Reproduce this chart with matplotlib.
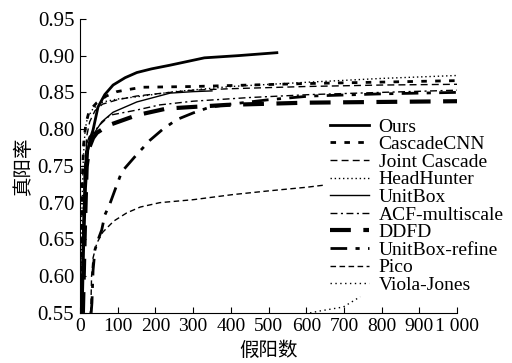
import matplotlib
matplotlib.use("Agg")
import matplotlib.pyplot as plt
from matplotlib.ticker import FuncFormatter

plt.rcParams['font.family'] = ['Liberation Serif', 'DejaVu Serif']
plt.rcParams['font.size'] = 14

# ROC curves (false positives vs true positive rate)
ours_x = [6, 10, 15, 21, 28, 35, 48, 66, 88, 120, 151, 190, 239, 330, 420, 522]
ours_y = [0.55, 0.64, 0.72, 0.772, 0.788, 0.799, 0.830, 0.847, 0.860, 0.870, 0.877, 0.882, 0.887, 0.897, 0.900, 0.904]

cascadecnn_x = [2, 4, 7, 10, 16, 25, 45, 70, 98, 130, 165, 300, 600, 1000]
cascadecnn_y = [0.55, 0.65, 0.74, 0.78, 0.808, 0.825, 0.836, 0.845, 0.851, 0.854, 0.857, 0.858, 0.862, 0.866]

joint_x = [4, 8, 12, 18, 26, 40, 60, 100, 150, 220, 300, 400, 600, 800, 1000]
joint_y = [0.55, 0.66, 0.74, 0.79, 0.81, 0.825, 0.834, 0.840, 0.845, 0.849, 0.853, 0.855, 0.858, 0.860, 0.861]

headhunter_x = [2, 5, 9, 14, 20, 35, 61, 100, 151, 250, 400, 610, 800, 1000]
headhunter_y = [0.55, 0.68, 0.76, 0.80, 0.815, 0.828, 0.837, 0.841, 0.844, 0.851, 0.858, 0.864, 0.869, 0.873]

unitbox_x = [4, 8, 12, 18, 25, 40, 58, 88, 151, 239, 300, 350]
unitbox_y = [0.55, 0.66, 0.74, 0.78, 0.79, 0.796, 0.810, 0.823, 0.837, 0.849, 0.851, 0.852]

acf_x = [3, 7, 12, 18, 26, 35, 53, 80, 151, 212, 300, 450, 610, 800, 1000]
acf_y = [0.55, 0.65, 0.72, 0.76, 0.78, 0.795, 0.806, 0.819, 0.826, 0.833, 0.838, 0.843, 0.847, 0.850, 0.853]

ddfd_x = [8, 13, 18, 25, 35, 45, 60, 80, 151, 230, 390, 600, 800, 1000]
ddfd_y = [0.55, 0.66, 0.749, 0.775, 0.788, 0.795, 0.800, 0.806, 0.819, 0.828, 0.833, 0.836, 0.837, 0.838]

refine_x = [30, 32, 35, 40, 50, 58, 66, 80, 95, 111, 150, 186, 220, 257, 300, 345, 400, 500, 610, 800, 1000]
refine_y = [0.55, 0.564, 0.608, 0.636, 0.652, 0.663, 0.683, 0.699, 0.72, 0.742, 0.765, 0.785, 0.80, 0.813, 0.822, 0.830, 0.834, 0.840, 0.845, 0.848, 0.850]

pico_x = [27, 29, 31, 35, 45, 61, 90, 124, 160, 212, 300, 406, 500, 602, 650]
pico_y = [0.55, 0.554, 0.60, 0.625, 0.645, 0.66, 0.675, 0.686, 0.694, 0.70, 0.704, 0.711, 0.716, 0.721, 0.724]

viola_x = [610, 640, 698, 743]
viola_y = [0.55, 0.553, 0.558, 0.572]

x_ticks = [0, 100, 200, 300, 400, 500, 600, 700, 800, 900, 1000]
y_ticks = [0.55, 0.60, 0.65, 0.70, 0.75, 0.80, 0.85, 0.90, 0.95]

fig = plt.figure(figsize=(5.12, 3.63), dpi=100)
ax = fig.add_axes([0.156, 0.138, 0.737, 0.810])

k = 'black'
ax.plot(ours_x, ours_y, color=k, lw=2.0, label='Ours')
ax.plot(cascadecnn_x, cascadecnn_y, color=k, lw=2.0, dashes=[2, 3], label='CascadeCNN')
ax.plot(joint_x, joint_y, color=k, lw=1.0, dashes=[5, 3], label='Joint Cascade')
ax.plot(headhunter_x, headhunter_y, color=k, lw=1.0, dashes=[1, 2], label='HeadHunter')
ax.plot(unitbox_x, unitbox_y, color=k, lw=1.0, label='UnitBox')
ax.plot(acf_x, acf_y, color=k, lw=1.0, dashes=[5, 2.5, 1.5, 2.5], label='ACF-multiscale')
ax.plot(ddfd_x, ddfd_y, color=k, lw=3.0, dashes=[5, 3], label='DDFD')
ax.plot(refine_x, refine_y, color=k, lw=2.0, dashes=[6, 3, 1.5, 3], label='UnitBox-refine')
ax.plot(pico_x, pico_y, color=k, lw=1.0, dashes=[4, 2.5], label='Pico')
ax.plot(viola_x, viola_y, color=k, lw=1.0, dashes=[1, 2.5], label='Viola-Jones')

ax.set_xlim(0, 1000)
ax.set_ylim(0.55, 0.95)
ax.set_xticks(x_ticks)
ax.set_yticks(y_ticks)
ax.xaxis.set_major_formatter(FuncFormatter(lambda v, p: '1 000' if v == 1000 else '%d' % v))
ax.yaxis.set_major_formatter(FuncFormatter(lambda v, p: '%.2f' % v))
ax.tick_params(direction='in', length=4, width=0.8, pad=4, labelsize=14)
ax.tick_params(axis='y', labelsize=15)
for s in ['top', 'right']:
    ax.spines[s].set_visible(False)

ax.set_xlabel('假阳数', family=['Noto Sans CJK SC'], fontsize=14, labelpad=3)
ax.set_ylabel('真阳率', family=['Noto Sans CJK SC'], fontsize=14, labelpad=3)

ax.legend(loc='upper left', bbox_to_anchor=(0.663, 0.663), frameon=False,
          borderpad=0, borderaxespad=0, labelspacing=0.0, handlelength=2.0,
          handletextpad=0.5, fontsize=14)

fig.savefig('out.png', dpi=100)
